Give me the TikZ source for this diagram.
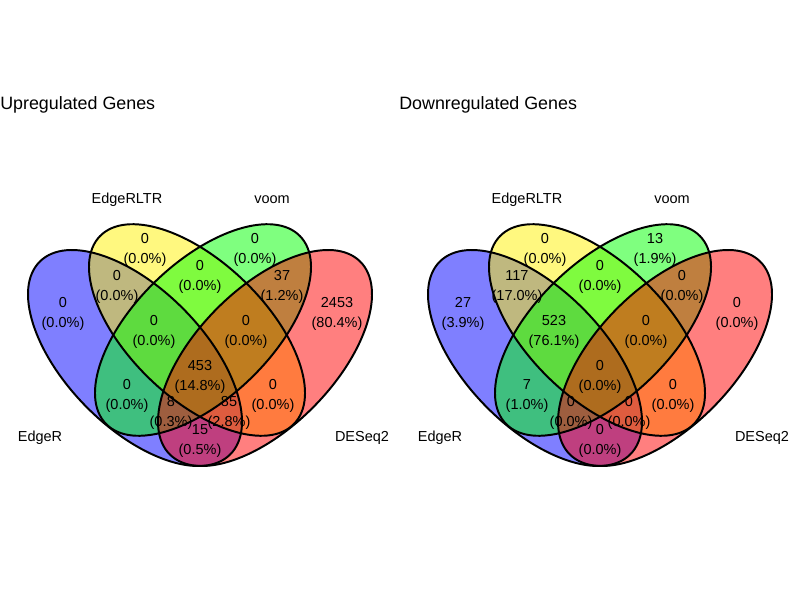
\documentclass[tikz,border=0pt]{standalone}
\usepackage{fontspec}
\setmainfont{Liberation Sans}
\usepackage{tikz}
\tikzset{
	venn/.style={line width=1.4pt},
	cnt/.style={align=center, inner sep=0pt, font=\fontsize{10.3}{14.2}\selectfont},
	catlab/.style={inner sep=0pt, font=\fontsize{10.3}{12}\selectfont},
	ttl/.style={anchor=base west, inner sep=0pt, font=\fontsize{12.7}{15}\selectfont}
}

\begin{document}
\begin{tikzpicture}[x=0.025cm, y=0.025cm]
	\useasboundingbox (0,0) rectangle (800,600);
	% the two diagrams
	\foreach \dx/\pn in {0/up, 400/down} {
		\begin{scope}[xshift=\dx*0.025cm]
			\fill [blue, opacity=0.5, rotate around={-45.45:(135,242)}] (135,242) ellipse [x radius=135.5, y radius=68.9];
			\fill [yellow, opacity=0.5, rotate around={-44:(197,270)}] (197,270) ellipse [x radius=135, y radius=68];
			\fill [green, opacity=0.5, rotate around={44:(203,270)}] (203,270) ellipse [x radius=135, y radius=68];
			\fill [red, opacity=0.5, rotate around={45.45:(265,242)}] (265,242) ellipse [x radius=135.5, y radius=68.9];
			\draw [venn, rotate around={-45.45:(135,242)}] (135,242) ellipse [x radius=135.5, y radius=68.9];
			\draw [venn, rotate around={-44:(197,270)}] (197,270) ellipse [x radius=135, y radius=68];
			\draw [venn, rotate around={44:(203,270)}] (203,270) ellipse [x radius=135, y radius=68];
			\draw [venn, rotate around={45.45:(265,242)}] (265,242) ellipse [x radius=135.5, y radius=68.9];
			\node (\pn-ltr) at (127, 400) [catlab] {EdgeRLTR};
			\node (\pn-voom) at (272, 400) [catlab] {voom};
			\node (\pn-edger) at (40, 162) [catlab] {EdgeR};
			\node (\pn-deseq) at (362, 162) [catlab] {DESeq2};
		\end{scope}
	}
	\node (up-title) at (0, 490.5) [ttl] {Upregulated Genes};
	\node (down-title) at (399, 490.5) [ttl] {Downregulated Genes};
	% counts, upregulated
	\node (up-y) at (145, 350) [cnt] {0\\(0.0\%)};
	\node (up-g) at (255, 350) [cnt] {0\\(0.0\%)};
	\node (up-by) at (117, 313) [cnt] {0\\(0.0\%)};
	\node (up-yg) at (200, 323) [cnt] {0\\(0.0\%)};
	\node (up-gr) at (282, 313) [cnt] {37\\(1.2\%)};
	\node (up-b) at (63, 286) [cnt] {0\\(0.0\%)};
	\node (up-r) at (337, 286) [cnt] {2453\\(80.4\%)};
	\node (up-byg) at (154, 268) [cnt] {0\\(0.0\%)};
	\node (up-ygr) at (246, 268) [cnt] {0\\(0.0\%)};
	\node (up-all) at (200, 223) [cnt] {453\\(14.8\%)};
	\node (up-bg) at (127, 204) [cnt] {0\\(0.0\%)};
	\node (up-yr) at (273, 204) [cnt] {0\\(0.0\%)};
	\node (up-bgr) at (171, 187) [cnt] {8\\(0.3\%)};
	\node (up-byr) at (229, 187) [cnt] {85\\(2.8\%)};
	\node (up-br) at (200, 159) [cnt] {15\\(0.5\%)};
	% counts, downregulated
	\node (down-y) at (545, 350) [cnt] {0\\(0.0\%)};
	\node (down-g) at (655, 350) [cnt] {13\\(1.9\%)};
	\node (down-by) at (517, 313) [cnt] {117\\(17.0\%)};
	\node (down-yg) at (600, 323) [cnt] {0\\(0.0\%)};
	\node (down-gr) at (682, 313) [cnt] {0\\(0.0\%)};
	\node (down-b) at (463, 286) [cnt] {27\\(3.9\%)};
	\node (down-r) at (737, 286) [cnt] {0\\(0.0\%)};
	\node (down-byg) at (554, 268) [cnt] {523\\(76.1\%)};
	\node (down-ygr) at (646, 268) [cnt] {0\\(0.0\%)};
	\node (down-all) at (600, 223) [cnt] {0\\(0.0\%)};
	\node (down-bg) at (527, 204) [cnt] {7\\(1.0\%)};
	\node (down-yr) at (673, 204) [cnt] {0\\(0.0\%)};
	\node (down-bgr) at (571, 187) [cnt] {0\\(0.0\%)};
	\node (down-byr) at (629, 187) [cnt] {0\\(0.0\%)};
	\node (down-br) at (600, 159) [cnt] {0\\(0.0\%)};
\end{tikzpicture}
\end{document}
